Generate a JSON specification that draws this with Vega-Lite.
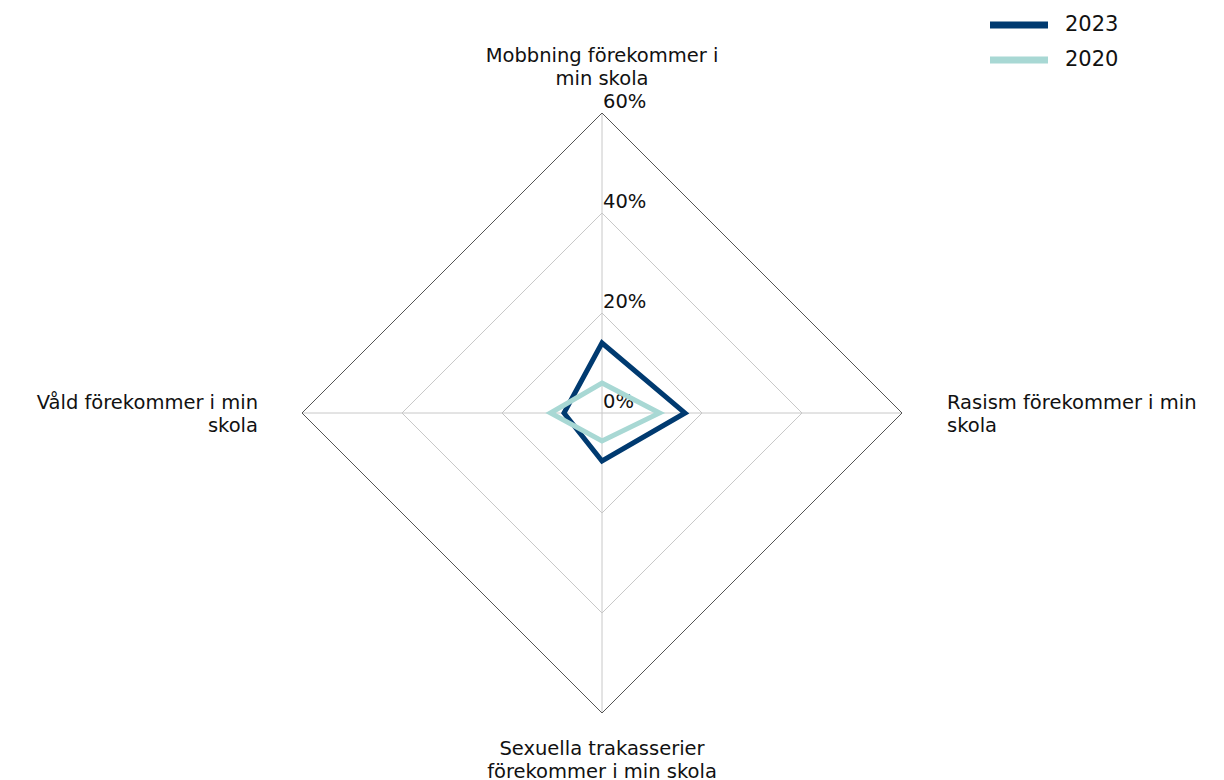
{
  "$schema": "https://vega.github.io/schema/vega-lite/v6.json",
  "width": 1224,
  "height": 780,
  "padding": 0,
  "autosize": "none",
  "background": "white",
  "config": {"view": {"stroke": null}, "font": "DejaVu Sans", "text": {"font": "DejaVu Sans"}},
  "datasets": {
    "series": [
      {"year": "2023", "idx": 0, "value": 14},
      {"year": "2023", "idx": 1, "value": 16.6},
      {"year": "2023", "idx": 2, "value": 9.6},
      {"year": "2023", "idx": 3, "value": 7.6},
      {"year": "2020", "idx": 0, "value": 6},
      {"year": "2020", "idx": 1, "value": 11.5},
      {"year": "2020", "idx": 2, "value": 5.6},
      {"year": "2020", "idx": 3, "value": 10.3}
    ],
    "axes": [
      {"idx": 0, "label": ["Mobbning förekommer i", "min skola"]},
      {"idx": 1, "label": ["Rasism förekommer i min", "skola"]},
      {"idx": 2, "label": ["Sexuella trakasserier", "förekommer i min skola"]},
      {"idx": 3, "label": ["Våld förekommer i min", "skola"]}
    ],
    "grid": [
      {"level": 20, "idx": 0}, {"level": 20, "idx": 1}, {"level": 20, "idx": 2}, {"level": 20, "idx": 3},
      {"level": 40, "idx": 0}, {"level": 40, "idx": 1}, {"level": 40, "idx": 2}, {"level": 40, "idx": 3},
      {"level": 60, "idx": 0}, {"level": 60, "idx": 1}, {"level": 60, "idx": 2}, {"level": 60, "idx": 3}
    ],
    "ticks": [
      {"level": 0, "text": "0%"},
      {"level": 20, "text": "20%"},
      {"level": 40, "text": "40%"},
      {"level": 60, "text": "60%"}
    ]
  },
  "layer": [
    {
      "data": {"name": "axes"},
      "transform": [
        {"calculate": "round(60*sin(datum.idx*PI/2)*1000)/1000", "as": "x"},
        {"calculate": "round(60*cos(datum.idx*PI/2)*1000)/1000", "as": "y"},
        {"calculate": "0", "as": "zero"}
      ],
      "mark": {"type": "rule", "stroke": "#c8c8c8", "strokeWidth": 1},
      "encoding": {
        "x": {"field": "zero", "type": "quantitative", "scale": {"domain": [-120.4, 124.4]}, "axis": null},
        "y": {"field": "zero", "type": "quantitative", "scale": {"domain": [-73.4, 82.6]}, "axis": null},
        "x2": {"field": "x"},
        "y2": {"field": "y"}
      }
    },
    {
      "data": {"name": "grid"},
      "transform": [
        {"filter": "datum.level < 60"},
        {"calculate": "round(datum.level*sin(datum.idx*PI/2)*1000)/1000", "as": "x"},
        {"calculate": "round(datum.level*cos(datum.idx*PI/2)*1000)/1000", "as": "y"}
      ],
      "mark": {"type": "line", "interpolate": "linear-closed", "stroke": "#c8c8c8", "strokeWidth": 1},
      "encoding": {
        "x": {"field": "x", "type": "quantitative", "scale": {"domain": [-120.4, 124.4]}, "axis": null},
        "y": {"field": "y", "type": "quantitative", "scale": {"domain": [-73.4, 82.6]}, "axis": null},
        "detail": {"field": "level", "type": "nominal"},
        "order": {"field": "idx", "type": "quantitative"}
      }
    },
    {
      "data": {"name": "grid"},
      "transform": [
        {"filter": "datum.level == 60"},
        {"calculate": "round(datum.level*sin(datum.idx*PI/2)*1000)/1000", "as": "x"},
        {"calculate": "round(datum.level*cos(datum.idx*PI/2)*1000)/1000", "as": "y"}
      ],
      "mark": {"type": "line", "interpolate": "linear-closed", "stroke": "#555555", "strokeWidth": 1},
      "encoding": {
        "x": {"field": "x", "type": "quantitative", "scale": {"domain": [-120.4, 124.4]}, "axis": null},
        "y": {"field": "y", "type": "quantitative", "scale": {"domain": [-73.4, 82.6]}, "axis": null},
        "order": {"field": "idx", "type": "quantitative"}
      }
    },
    {
      "data": {"name": "ticks"},
      "transform": [{"calculate": "0", "as": "zero"}],
      "mark": {"type": "text", "align": "left", "baseline": "alphabetic", "dx": 1, "dy": -5, "fontSize": 19.5, "color": "#111111"},
      "encoding": {
        "x": {"field": "zero", "type": "quantitative", "scale": {"domain": [-120.4, 124.4]}, "axis": null},
        "y": {"field": "level", "type": "quantitative", "scale": {"domain": [-73.4, 82.6]}, "axis": null},
        "text": {"field": "text", "type": "nominal"}
      }
    },
    {
      "data": {"name": "series"},
      "transform": [
        {"calculate": "round(datum.value*sin(datum.idx*PI/2)*1000)/1000", "as": "x"},
        {"calculate": "round(datum.value*cos(datum.idx*PI/2)*1000)/1000", "as": "y"}
      ],
      "mark": {"type": "line", "interpolate": "linear-closed", "strokeWidth": 5, "strokeJoin": "miter"},
      "encoding": {
        "x": {"field": "x", "type": "quantitative", "scale": {"domain": [-120.4, 124.4]}, "axis": null},
        "y": {"field": "y", "type": "quantitative", "scale": {"domain": [-73.4, 82.6]}, "axis": null},
        "order": {"field": "idx", "type": "quantitative"},
        "color": {
          "field": "year",
          "type": "nominal",
          "scale": {"domain": ["2023", "2020"], "range": ["#003a70", "#a8d8d4"]},
          "legend": {
            "title": null,
            "orient": "none",
            "legendX": 1001,
            "legendY": 7,
            "symbolType": "M-2,0H2",
            "symbolSize": 841,
            "symbolStrokeWidth": 7,
            "labelFontSize": 21,
            "labelFont": "DejaVu Sans",
            "labelColor": "#111111",
            "labelOffset": 28,
            "rowPadding": 3
          }
        }
      }
    },
    {
      "data": {"name": "axes"},
      "transform": [
        {"calculate": "round(60*sin(datum.idx*PI/2)*1000)/1000", "as": "x"},
        {"calculate": "round(60*cos(datum.idx*PI/2)*1000)/1000", "as": "y"},
        {"filter": "datum.idx == 0"}
      ],
      "mark": {"type": "text", "align": "center", "baseline": "bottom", "fontSize": 19.5, "lineHeight": 23, "dy": -47, "color": "#111111"},
      "encoding": {
        "x": {"field": "x", "type": "quantitative", "scale": {"domain": [-120.4, 124.4]}, "axis": null},
        "y": {"field": "y", "type": "quantitative", "scale": {"domain": [-73.4, 82.6]}, "axis": null},
        "text": {"field": "label", "type": "nominal"}
      }
    },
    {
      "data": {"name": "axes"},
      "transform": [
        {"calculate": "round(60*sin(datum.idx*PI/2)*1000)/1000", "as": "x"},
        {"calculate": "round(60*cos(datum.idx*PI/2)*1000)/1000", "as": "y"},
        {"filter": "datum.idx == 1"}
      ],
      "mark": {"type": "text", "align": "left", "baseline": "middle", "fontSize": 19.5, "lineHeight": 23, "dx": 45, "dy": -10, "color": "#111111"},
      "encoding": {
        "x": {"field": "x", "type": "quantitative", "scale": {"domain": [-120.4, 124.4]}, "axis": null},
        "y": {"field": "y", "type": "quantitative", "scale": {"domain": [-73.4, 82.6]}, "axis": null},
        "text": {"field": "label", "type": "nominal"}
      }
    },
    {
      "data": {"name": "axes"},
      "transform": [
        {"calculate": "round(60*sin(datum.idx*PI/2)*1000)/1000", "as": "x"},
        {"calculate": "round(60*cos(datum.idx*PI/2)*1000)/1000", "as": "y"},
        {"filter": "datum.idx == 2"}
      ],
      "mark": {"type": "text", "align": "center", "baseline": "top", "fontSize": 19.5, "lineHeight": 23, "dy": 27, "color": "#111111"},
      "encoding": {
        "x": {"field": "x", "type": "quantitative", "scale": {"domain": [-120.4, 124.4]}, "axis": null},
        "y": {"field": "y", "type": "quantitative", "scale": {"domain": [-73.4, 82.6]}, "axis": null},
        "text": {"field": "label", "type": "nominal"}
      }
    },
    {
      "data": {"name": "axes"},
      "transform": [
        {"calculate": "round(60*sin(datum.idx*PI/2)*1000)/1000", "as": "x"},
        {"calculate": "round(60*cos(datum.idx*PI/2)*1000)/1000", "as": "y"},
        {"filter": "datum.idx == 3"}
      ],
      "mark": {"type": "text", "align": "right", "baseline": "middle", "fontSize": 19.5, "lineHeight": 23, "dx": -44, "dy": -10, "color": "#111111"},
      "encoding": {
        "x": {"field": "x", "type": "quantitative", "scale": {"domain": [-120.4, 124.4]}, "axis": null},
        "y": {"field": "y", "type": "quantitative", "scale": {"domain": [-73.4, 82.6]}, "axis": null},
        "text": {"field": "label", "type": "nominal"}
      }
    }
  ]
}
